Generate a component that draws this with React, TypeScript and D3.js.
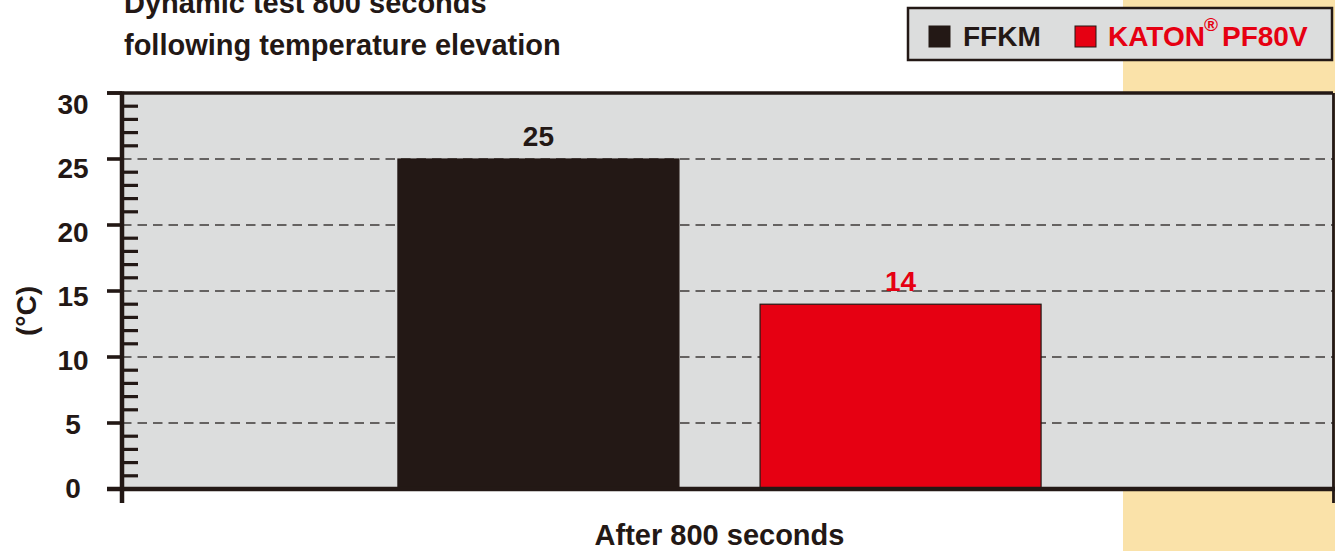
import React from "react";
import * as d3 from "d3";

// Temperature rise after 800 s of dynamic testing
const categories = ["After 800 seconds"];
const seriesNames = ["FFKM", "KATON PF80V"];
const seriesValues = [25, 14];
const seriesColors = ["#231815", "#e60012"];
const labelColors = ["#231815", "#e60012"];
const yTicks = [0, 5, 10, 15, 20, 25, 30];
const gridValues = [5, 10, 15, 20, 25];
const titleLines = ["Dynamic test 800 seconds", "following temperature elevation"];
const yAxisTitle = "(°C)";

const W = 1335;
const H = 551;
const DARK = "#231815";
const PANEL = "#dcdddd";
const FONT = "'Liberation Sans', Arial, Helvetica, sans-serif";

export default function App() {
  const plotLeft = 122;
  const plotRight = 1333;
  const plotTop = 93;
  const plotBottom = 489;

  const y = d3.scaleLinear().domain([0, 30]).range([plotBottom, plotTop]);
  // tick labels sit on a slightly tighter spacing than the ticks themselves
  const yLabel = y.copy().range([488, 104]);
  const minorTicks = d3.range(0, 31, 1).filter((v) => v % 5 !== 0);

  const x0 = d3
    .scaleBand<string>()
    .domain(categories)
    .range([plotLeft, 1317])
    .paddingInner(0)
    .paddingOuter(0.429);
  const x1 = d3
    .scaleBand<string>()
    .domain(seriesNames)
    .range([0, x0.bandwidth()])
    .paddingInner(0.224)
    .paddingOuter(0);

  const cat = categories[0];
  const groupX = x0(cat) ?? 0;

  return (
    <svg
      width={W}
      height={H}
      style={{ display: "block", position: "absolute", left: 0, top: 0 }}
      fontFamily={FONT}
    >
      <rect x={0} y={0} width={W} height={H} fill="#ffffff" />
      {/* pale side band */}
      <rect x={1123} y={0} width={W - 1123} height={H} fill="#fae2a9" />

      {/* title */}
      {titleLines.map((t, i) => (
        <text
          key={t}
          x={124}
          y={13 + i * 42}
          fontSize={29}
          fontWeight="bold"
          fill={DARK}
        >
          {t}
        </text>
      ))}

      {/* legend */}
      <g>
        <rect x={908} y={8} width={424} height={52} fill={PANEL} stroke={DARK} strokeWidth={2.5} />
        <rect x={929} y={26} width={21} height={21} fill={seriesColors[0]} stroke={DARK} strokeWidth={1} />
        <text x={963} y={46} fontSize={28} fontWeight="bold" fill={labelColors[0]}>
          FFKM
        </text>
        <rect x={1075} y={26} width={21} height={21} fill={seriesColors[1]} stroke={DARK} strokeWidth={1} />
        <text x={1108} y={46} fontSize={28} fontWeight="bold" fill={labelColors[1]}>
          KATON
          <tspan fontSize={19} dy={-15} dx={-1}>®</tspan>
          <tspan dy={15} dx={4}>PF80V</tspan>
        </text>
      </g>

      {/* plot panel */}
      <rect
        x={plotLeft}
        y={plotTop}
        width={plotRight - plotLeft}
        height={plotBottom - plotTop}
        fill={PANEL}
      />

      {/* dashed grid */}
      {gridValues.map((v) => (
        <line
          key={`g${v}`}
          x1={plotLeft}
          x2={plotRight}
          y1={y(v)}
          y2={y(v)}
          stroke="#3e3a39"
          strokeWidth={1.6}
          strokeDasharray="9.5 6"
        />
      ))}

      {/* bars */}
      {seriesNames.map((s, i) => {
        const bx = groupX + (x1(s) ?? 0);
        const by = y(seriesValues[i]);
        return (
          <rect
            key={s}
            x={bx}
            y={by}
            width={x1.bandwidth()}
            height={y(0) - by}
            fill={seriesColors[i]}
            stroke={DARK}
            strokeWidth={1.2}
          />
        );
      })}

      {/* value labels */}
      {seriesNames.map((s, i) => (
        <text
          key={`v${s}`}
          x={groupX + (x1(s) ?? 0) + x1.bandwidth() / 2}
          y={y(seriesValues[i]) - 13}
          textAnchor="middle"
          fontSize={28}
          fontWeight="bold"
          fill={labelColors[i]}
        >
          {seriesValues[i]}
        </text>
      ))}

      {/* frame: top, right, bottom */}
      <line x1={107} x2={plotRight} y1={plotTop} y2={plotTop} stroke={DARK} strokeWidth={3.6} />
      <line x1={plotRight + 0.5} x2={plotRight + 0.5} y1={plotTop} y2={503} stroke={DARK} strokeWidth={2.8} />
      <line x1={107} x2={W} y1={plotBottom} y2={plotBottom} stroke={DARK} strokeWidth={4.5} />

      {/* y axis */}
      <line x1={plotLeft} x2={plotLeft} y1={plotTop - 1.5} y2={503} stroke={DARK} strokeWidth={4.5} />
      {yTicks.map((v) => (
        <line key={`M${v}`} x1={107} x2={plotLeft} y1={y(v)} y2={y(v)} stroke={DARK} strokeWidth={3.6} />
      ))}
      {minorTicks.map((v) => (
        <line key={`m${v}`} x1={plotLeft} x2={138} y1={y(v)} y2={y(v)} stroke={DARK} strokeWidth={3.2} />
      ))}
      {yTicks.map((v) => (
        <text
          key={`t${v}`}
          x={73}
          y={yLabel(v)}
          textAnchor="middle"
          dominantBaseline="central"
          fontSize={28}
          fontWeight="bold"
          fill={DARK}
        >
          {v}
        </text>
      ))}

      {/* axis titles */}
      <text
        transform={`translate(26,311) rotate(-90)`}
        textAnchor="middle"
        dominantBaseline="central"
        fontSize={28}
        fontWeight="bold"
        fill={DARK}
      >
        {yAxisTitle}
      </text>
      <text
        x={groupX + x0.bandwidth() / 2}
        y={545}
        textAnchor="middle"
        fontSize={29}
        fontWeight="bold"
        fill={DARK}
      >
        {cat}
      </text>
    </svg>
  );
}
